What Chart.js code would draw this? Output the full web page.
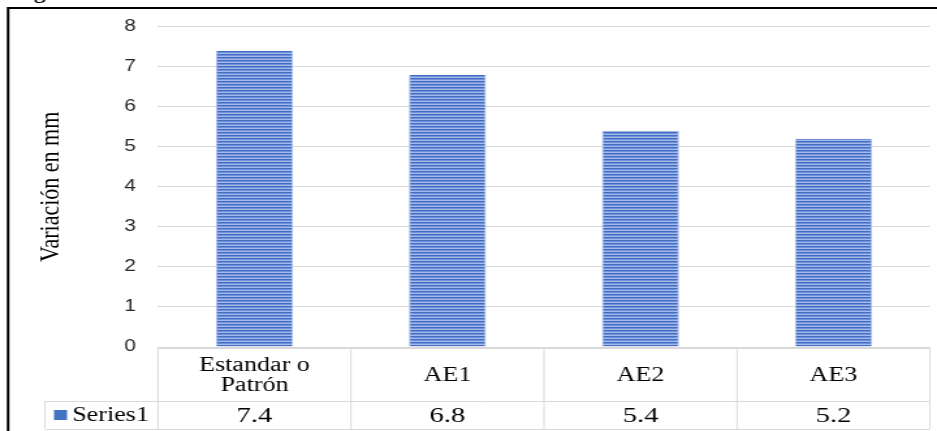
<!DOCTYPE html>
<html>
<head>
<meta charset="utf-8">
<script src="https://cdn.jsdelivr.net/npm/chart.js@4"></script>
<style>
	html, body { margin: 0; padding: 0; background: #fff; overflow: hidden; }
	/* the source picture is stretched sideways, so the chart is drawn narrow and widened */
	#wrap { position: relative; width: 720px; height: 431px; transform: scaleX(1.30139); transform-origin: 0 0; }
</style>
</head>
<body>
<div id="wrap"><canvas id="chart" width="720" height="431"></canvas></div>
<script>
const categories = [[`Estandar o`, `Patrón`], `AE1`, `AE2`, `AE3`];
const seriesName = `Series1`;
const seriesValues = [7.4, 6.8, 5.4, 5.2];
const yTicks = [0, 1, 2, 3, 4, 5, 6, 7, 8];
const yTitle = `Variación en mm`;

const serif = `"Liberation Serif", "Times New Roman", serif`;
const sans = `"Liberation Sans", Arial, sans-serif`;
const gridColor = `#d9d9d9`;

// striped fill like the original bars
function makeStripes() {
	const c = document.createElement(`canvas`);
	c.width = 4; c.height = 3;
	const g = c.getContext(`2d`);
	g.fillStyle = `#426ec6`; g.fillRect(0, 0, 4, 1);
	g.fillStyle = `#7090d8`; g.fillRect(0, 1, 4, 1);
	g.fillStyle = `#a4b9e8`; g.fillRect(0, 2, 4, 1);
	return g.createPattern(c, `repeat`);
}

// frame, caption fragment and the data table under the plot
const tablePlugin = {
	id: `dataTable`,
	afterDraw(chart) {
		const ctx = chart.ctx;
		const x = chart.scales.x;
		const area = chart.chartArea;
		const n = categories.length;
		const w = (area.right - area.left) / n;
		const top = area.bottom + 1;
		const mid = top + 53;
		const bottom = mid + 28;
		const legendLeft = 34.6;

		ctx.save();
		// outer frame (top + left only visible)
		ctx.strokeStyle = `#000`;
		ctx.lineWidth = 2;
		ctx.beginPath();
		ctx.moveTo(6.2, 440); ctx.lineTo(6.2, 8); ctx.lineTo(730, 8);
		ctx.stroke();

		ctx.fillStyle = `#000`;
		ctx.font = `bold 18px ${serif}`;
		ctx.textAlign = `left`;
		ctx.textBaseline = `alphabetic`;
		ctx.fillText(`Figura 1`, 10, -1);

		// grid of the table
		ctx.strokeStyle = gridColor;
		ctx.lineWidth = 1;
		ctx.beginPath();
		ctx.moveTo(area.left, top + 0.5); ctx.lineTo(area.right, top + 0.5);
		ctx.moveTo(legendLeft, mid + 0.5); ctx.lineTo(area.right, mid + 0.5);
		ctx.moveTo(legendLeft, bottom + 0.5); ctx.lineTo(area.right, bottom + 0.5);
		ctx.moveTo(legendLeft, mid); ctx.lineTo(legendLeft, bottom);
		for (let i = 0; i <= n; i++) {
			const px = area.left + i * w;
			ctx.moveTo(px, top); ctx.lineTo(px, bottom);
		}
		ctx.stroke();

		// header labels and values
		ctx.fillStyle = `#000`;
		ctx.textAlign = `center`;
		ctx.textBaseline = `middle`;
		categories.forEach((label, i) => {
			const cx = x.getPixelForValue(i);
			const lines = Array.isArray(label) ? label : [label];
			const lh = 20;
			const y0 = (top + mid) / 2 - (lines.length - 1) * lh / 2 + 1;
			ctx.font = `20px ${serif}`;
			lines.forEach((line, j) => ctx.fillText(line, cx, y0 + j * lh));
			ctx.font = `22px ${serif}`;
			ctx.fillText(seriesValues[i].toFixed(1), cx, (mid + bottom) / 2 + 1);
		});

		// legend key in the table
		ctx.fillStyle = `#4472c4`;
		ctx.fillRect(41.5, mid + 9, 10, 10);
		ctx.fillStyle = `#000`;
		ctx.textAlign = `left`;
		ctx.font = `20px ${serif}`;
		ctx.fillText(seriesName, 55.5, (mid + bottom) / 2 + 1);
		ctx.restore();
	}
};

new Chart(document.getElementById(`chart`), {
	type: `bar`,
	data: {
		labels: categories,
		datasets: [{
			label: seriesName,
			data: seriesValues,
			backgroundColor: makeStripes(),
			borderColor: `#a9bde8`,
			borderWidth: {left: 1, right: 1, top: 0, bottom: 0},
			categoryPercentage: 1,
			barPercentage: 0.4
		}]
	},
	options: {
		responsive: false,
		animation: false,
		layout: { padding: { left: 22, top: 15, right: 5.4, bottom: 84 } },
		plugins: {
			legend: { display: false },
			tooltip: { enabled: false }
		},
		scales: {
			x: { display: false },
			y: {
				min: yTicks[0],
				max: yTicks[yTicks.length - 1],
				afterFit: s => { s.width = 99.4; },
				afterBuildTicks: s => { s.ticks = yTicks.map(v => ({value: v})); },
				border: { display: false },
				grid: { color: gridColor, drawTicks: false },
				ticks: {
					padding: 17,
					color: `#262626`,
					font: { family: sans, size: 16 }
				},
				title: {
					display: true,
					text: yTitle,
					color: `#000`,
					font: { family: serif, size: 22 },
					padding: 4
				}
			}
		}
	},
	plugins: [tablePlugin]
});
</script>
</body>
</html>
